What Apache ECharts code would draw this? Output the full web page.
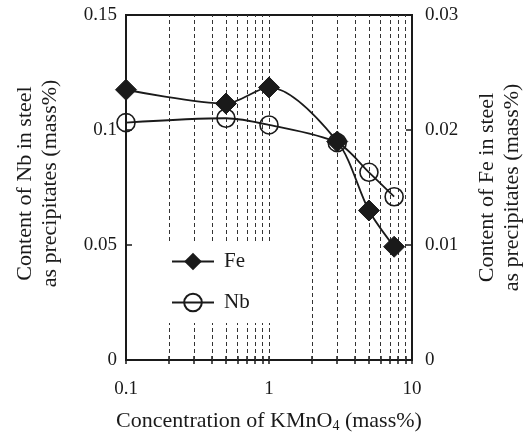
<!DOCTYPE html>
<html><head><meta charset="utf-8">
<script src="https://cdn.jsdelivr.net/npm/echarts@6/dist/echarts.min.js"></script>
<style>html,body{margin:0;padding:0;background:#fff}#c{width:524px;height:436px}</style>
</head><body><div id="c"></div>
<script>
const xVals = [0.1, 0.5, 1, 3, 5, 7.5];
const feVals = [0.0235, 0.0223, 0.0237, 0.019, 0.013, 0.00985];
const nbVals = [0.1032, 0.1051, 0.1022, 0.0945, 0.0816, 0.071];
const gridX = [0.2,0.3,0.4,0.5,0.6,0.7,0.8,0.9,1,2,3,4,5,6,7,8,9];
const xTicks = [0.1,0.2,0.3,0.4,0.5,0.6,0.7,0.8,0.9,1,2,3,4,5,6,7,8,9,10];
const xLabels = [0.1, 1, 10];

const FONT = 'Liberation Serif';
const C = '#1a1a1a';
const chart = echarts.init(document.getElementById('c'));
const xBase = {
  type: 'log', logBase: 10, min: 0.1, max: 10, gridIndex: 0, position: 'bottom',
  axisLine: { show: true, lineStyle: { color: C, width: 2 } },
  splitLine: { show: false }
};
chart.setOption({
  animation: false,
  textStyle: { fontFamily: FONT },
  grid: { left: 126, right: 112, top: 15, bottom: 76, outerBoundsMode: 'none', containLabel: false,
          show: true, borderColor: C, borderWidth: 2, backgroundColor: 'transparent' },
  legend: {
    data: ['Fe', 'Nb'], orient: 'vertical', left: 167, top: 243, z: 20,
    backgroundColor: '#fff', padding: [8, 22, 10, 4], itemWidth: 42, itemHeight: 22, itemGap: 20,
    textStyle: { fontFamily: FONT, fontSize: 21, color: C, padding: [0, 0, 0, 5] }
  },
  xAxis: [
    Object.assign({}, xBase, {
      axisTick: { show: true, inside: true, length: 4, customValues: xTicks, lineStyle: { color: C, width: 1.5 } },
      axisLabel: { fontFamily: FONT, fontSize: 19, color: C, margin: 20, customValues: xLabels, formatter: v => String(v) },
      name: 'Concentration of KMnO{sub|4} (mass%)', nameLocation: 'middle', nameGap: 49,
      nameTextStyle: { fontFamily: FONT, fontSize: 22, color: C, rich: { sub: { fontFamily: FONT, fontSize: 14, verticalAlign: 'bottom', padding: [10, 0, 0, 0] } } }
    }),
    Object.assign({}, xBase, {
      axisTick: { show: true, inside: false, length: 4, customValues: xTicks, lineStyle: { color: C, width: 1.5 } },
      axisLabel: { show: false }
    })
  ],
  yAxis: [
    {
      type: 'value', min: 0, max: 0.15, interval: 0.05, position: 'left',
      axisLine: { show: true, lineStyle: { color: C, width: 2 } },
      axisTick: { show: true, inside: true, length: 6, lineStyle: { color: C, width: 1.5 } },
      splitLine: { show: false },
      axisLabel: { fontFamily: FONT, fontSize: 19, color: C, margin: 9 },
      name: 'Content of Nb in steel\nas precipitates (mass%)', nameLocation: 'middle', nameRotate: 90, nameGap: 63,
      nameTextStyle: { fontFamily: FONT, fontSize: 22, color: C, lineHeight: 25, padding: [0, 0, 0, 8] }
    },
    {
      type: 'value', min: 0, max: 0.03, interval: 0.01, position: 'right',
      axisLine: { show: true, lineStyle: { color: C, width: 2 } },
      axisTick: { show: true, inside: true, length: 6, lineStyle: { color: C, width: 1.5 } },
      splitLine: { show: false },
      axisLabel: { fontFamily: FONT, fontSize: 19, color: C, margin: 13 },
      name: 'Content of Fe in steel\nas precipitates (mass%)', nameLocation: 'middle', nameRotate: 90, nameGap: 63,
      nameTextStyle: { fontFamily: FONT, fontSize: 22, color: C, lineHeight: 25 }
    }
  ],
  series: [
    {
      name: 'Nb', type: 'line', yAxisIndex: 0, smooth: 0.3,
      data: xVals.map((x, i) => [x, nbVals[i]]),
      symbol: 'circle', symbolSize: 18,
      itemStyle: { color: 'rgba(255,255,255,0)', borderColor: C, borderWidth: 1.6 },
      lineStyle: { color: C, width: 1.8 },
      markLine: {
        silent: true, symbol: 'none', label: { show: false }, z: 1,
        lineStyle: { color: '#333', type: [4, 3], width: 1 },
        data: gridX.map(v => ({ xAxis: v }))
      }
    },
    {
      name: 'Fe', type: 'line', yAxisIndex: 1, smooth: 0.3,
      data: xVals.map((x, i) => [x, feVals[i]]),
      symbol: 'diamond', symbolSize: 21,
      itemStyle: { color: C, borderColor: C },
      lineStyle: { color: C, width: 1.8 }
    }
  ]
});
</script></body></html>
